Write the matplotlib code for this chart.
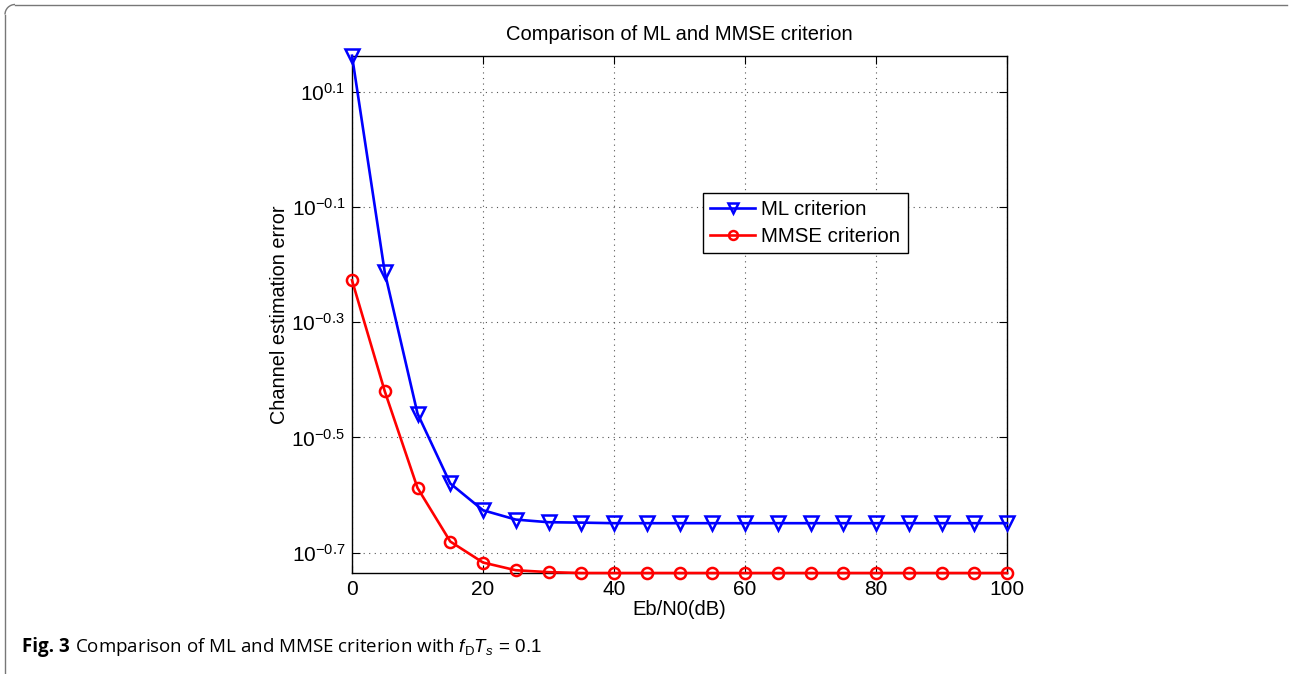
import matplotlib
matplotlib.use("Agg")
import matplotlib.pyplot as plt
from matplotlib.lines import Line2D
from matplotlib.patches import Arc
import numpy as np

# ---- data ----
snr_db = [0, 5, 10, 15, 20, 25, 30, 35, 40, 45, 50, 55, 60, 65, 70, 75, 80, 85, 90, 95, 100]
ml_log = [0.163, -0.213, -0.4585, -0.580, -0.6265, -0.6427, -0.6473, -0.648, -0.649, -0.649,
          -0.649, -0.649, -0.649, -0.649, -0.649, -0.649, -0.649, -0.649, -0.649, -0.649, -0.649]
mmse_log = [-0.227, -0.4198, -0.5877, -0.6808, -0.7173, -0.7307, -0.734, -0.7355, -0.7355, -0.7355,
            -0.7355, -0.7355, -0.7355, -0.7355, -0.7355, -0.7355, -0.7355, -0.7355, -0.7355, -0.7355, -0.7355]
ml_err = [10 ** v for v in ml_log]
mmse_err = [10 ** v for v in mmse_log]
ytick_exps = [0.1, -0.1, -0.3, -0.5, -0.7]
xticks = [0, 20, 40, 60, 80, 100]
series_labels = ["ML criterion", "MMSE criterion"]
title = "Comparison of ML and MMSE criterion"
xlabel = "Eb/N0(dB)"
ylabel = "Channel estimation error"
caption_bold = "Fig. 3"
caption_rest = r"Comparison of ML and MMSE criterion with $f_{\mathrm{D}}T_s\,=\,0.1$"

plt.rcParams['font.family'] = ['Liberation Sans', 'DejaVu Sans']
plt.rcParams['mathtext.fontset'] = 'custom'
plt.rcParams['mathtext.rm'] = 'Liberation Sans'
plt.rcParams['mathtext.it'] = 'Liberation Sans:italic'
plt.rcParams['mathtext.bf'] = 'Liberation Sans:bold'

fig = plt.figure(figsize=(12.89, 6.74), dpi=100)
ax = fig.add_axes([352/1289, 1 - 573/674, (1007-352)/1289, (573-55.7)/674])

ax.plot(snr_db, ml_err, color='#0000ff', lw=1.9, marker='v', ms=9.5, mfc='none', mew=1.8,
        label=series_labels[0], clip_on=False, zorder=3)
ax.plot(snr_db, mmse_err, color='#ff0000', lw=1.9, marker='o', ms=8, mfc='none', mew=1.8,
        label=series_labels[1], clip_on=False, zorder=3)

ax.set_yscale('log')
ax.set_xlim(0, 100)
ax.set_ylim(min(mmse_err), max(ml_err))
ax.set_yticks([10 ** e for e in ytick_exps])
ax.set_yticklabels([r"$10^{%.1f}$" % e for e in ytick_exps])
ax.yaxis.set_minor_locator(matplotlib.ticker.NullLocator())
ax.set_xticks(xticks)
ax.tick_params(direction='in', length=6, width=0.8, labelsize=15, top=True, right=True, pad=5)
for s in ax.spines.values():
    s.set_linewidth(1.0)
ax.grid(True, linestyle=(0, (1, 4)), color='#555555', linewidth=0.8)

ax.set_title(title, fontsize=14.5, pad=11)
ax.set_xlabel(xlabel, fontsize=14.5, labelpad=1)
ax.set_ylabel(ylabel, fontsize=14.3, labelpad=2)

leg = ax.legend(loc='upper left', bbox_to_anchor=(0.536, 0.7346), borderaxespad=0,
                fancybox=False, edgecolor='black', framealpha=1, fontsize=14.7,
                handlelength=2.2, handletextpad=0.3, borderpad=0.35, labelspacing=0.4,
                markerscale=0.8)
leg.get_frame().set_linewidth(1.0)

# caption
t1 = fig.text(22/1289, 1 - 647/674, caption_bold, fontsize=13.5, fontweight='bold',
              va='center', ha='left', family=['Open Sans', 'DejaVu Sans'])
fig.canvas.draw()
bb = t1.get_window_extent(renderer=fig.canvas.get_renderer())
fig.text((bb.x1 + 5)/1289, 1 - 647/674, caption_rest,
         fontsize=13.5, va='center', ha='left', family=['Open Sans', 'DejaVu Sans'])

# page frame (top and left lines with rounded corner)
r = 10
fig.add_artist(Line2D([(5+r)/1289, 1287/1289], [1-4.5/674, 1-4.5/674], color='#777777', lw=1.0,
                      transform=fig.transFigure))
fig.add_artist(Line2D([5/1289, 5/1289], [0, 1-(4.5+r)/674], color='#777777', lw=1.0,
                      transform=fig.transFigure))
fig.add_artist(Arc(((5+r)/1289, 1-(4.5+r)/674), 2*r/1289, 2*r/674, theta1=90, theta2=180,
                   color='#777777', lw=1.0, transform=fig.transFigure))

fig.savefig("out.png", dpi=100)
